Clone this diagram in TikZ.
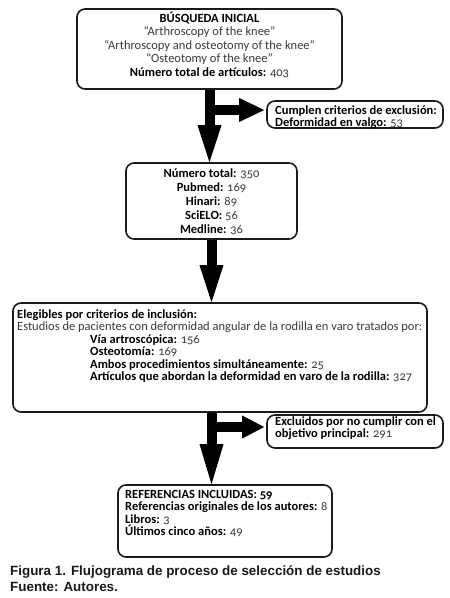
\documentclass[tikz,border=0pt]{standalone}
\usepackage{fontspec}
\setmainfont{Carlito}[Numbers=OldStyle]
\newfontfamily\capfont{Liberation Sans}
\usetikzlibrary{arrows.meta,calc}
\definecolor{txtgray}{HTML}{3A3A3A}
\definecolor{linecol}{HTML}{1A1A1A}
\begin{document}
\begin{tikzpicture}[x=1bp,y=-1bp,
  box/.style={draw=linecol, line width=1.6bp, rounded corners=8bp, inner sep=0pt},
  txt/.style={text=txtgray, inner sep=0pt},
  bigarrow/.style={draw=black, line width=10bp, -{Triangle[length=37bp,width=24bp,line width=0pt]}},
  sidearrow/.style={draw=black, line width=10bp, -{Triangle[length=25bp,width=24bp,line width=0pt]}},
]
\useasboundingbox[fill=white] (0,0) rectangle (450,598);

% boxes
\node[box, minimum width=265bp, minimum height=80bp] (b1) at (209.5,49) {};
\node[box, minimum width=176bp, minimum height=27bp] (ex1) at (355,114.5) {};
\node[box, minimum width=171bp, minimum height=76bp] (b2) at (211.5,201) {};
\node[box, minimum width=414bp, minimum height=109bp] (b3) at (220,357.5) {};
\node[box, minimum width=176bp, minimum height=33bp] (ex2) at (355,431.5) {};
\node[box, minimum width=214bp, minimum height=72bp] (b4) at (225,521) {};

% texts
\node[txt, align=center, font=\fontsize{12.5bp}{13.5bp}\selectfont] (b1t) at (209.5,44.5) {%
\textbf{\color{black}BÚSQUEDA INICIAL}\\
“Arthroscopy of the knee”\\
“Arthroscopy and osteotomy of the knee”\\
“Osteotomy of the knee”\\
\textbf{\color{black}Número total de artículos:} 403};

\node[txt, align=left, anchor=west, font=\fontsize{12.5bp}{12.5bp}\selectfont] (ex1t) at (275,117) {%
\textbf{\color{black}Cumplen criterios de exclusión:}\\
\textbf{\color{black}Deformidad en valgo:} 53};

\node[txt, align=center, font=\fontsize{12.5bp}{14bp}\selectfont] (b2t) at (211.5,202) {%
\textbf{\color{black}Número total:} 350\\
\textbf{\color{black}Pubmed:} 169\\
\textbf{\color{black}Hinari:} 89\\
\textbf{\color{black}SciELO:} 56\\
\textbf{\color{black}Medline:} 36};

\node[txt, align=left, anchor=west, font=\fontsize{12.5bp}{12.4bp}\selectfont] (b3t) at (17,346) {%
\textbf{\color{black}Elegibles por criterios de inclusión:}\\
Estudios de pacientes con deformidad angular de la rodilla en varo tratados por:\\
\hspace*{73bp}\textbf{\color{black}Vía artroscópica:} 156\\
\hspace*{73bp}\textbf{\color{black}Osteotomía:} 169\\
\hspace*{73bp}\textbf{\color{black}Ambos procedimientos simultáneamente:} 25\\
\hspace*{73bp}\textbf{\color{black}Artículos que abordan la deformidad en varo de la rodilla:} 327};

\node[txt, align=left, anchor=west, font=\fontsize{12.5bp}{12bp}\selectfont] (ex2t) at (275,428) {%
\textbf{\color{black}Excluidos por no cumplir con el}\\
\textbf{\color{black}objetivo principal:} 291};

\node[txt, align=left, anchor=west, font=\fontsize{12.5bp}{12.4bp}\selectfont] (b4t) at (125,513.5) {%
\textbf{\color{black}REFERENCIAS INCLUIDAS: 59}\\
\textbf{\color{black}Referencias originales de los autores:} 8\\
\textbf{\color{black}Libros:} 3\\
\textbf{\color{black}Últimos cinco años:} 49};

% caption
\node[anchor=north west, align=left, inner sep=0pt, text=black!90,
      font=\capfont\bfseries\fontsize{13.4bp}{16.5bp}\selectfont] (cap) at (10,565) {%
Figura 1. Flujograma de proceso de selección de estudios\\
Fuente: Autores.};

% arrows
\coordinate (ex1tip) at ($(ex1.west)+(-2,-4.5)$);
\coordinate (ex2tip) at ($(ex2.west)+(-2,-4.5)$);
\draw[sidearrow] (b1.south |- ex1tip) -- (ex1tip);
\draw[bigarrow] (b1.south) -- (b1.south |- b2.north);
\draw[bigarrow] (b2.south) -- (b2.south |- b3.north);
\draw[sidearrow, -{Triangle[length=22bp,width=23bp,line width=0pt]}] (b2.south |- ex2tip) -- (ex2tip);
\draw[bigarrow, -{Triangle[length=40bp,width=24bp,line width=0pt]}] (b3.south -| b2.south) -- (b2.south |- b4.north);
\end{tikzpicture}
\end{document}
